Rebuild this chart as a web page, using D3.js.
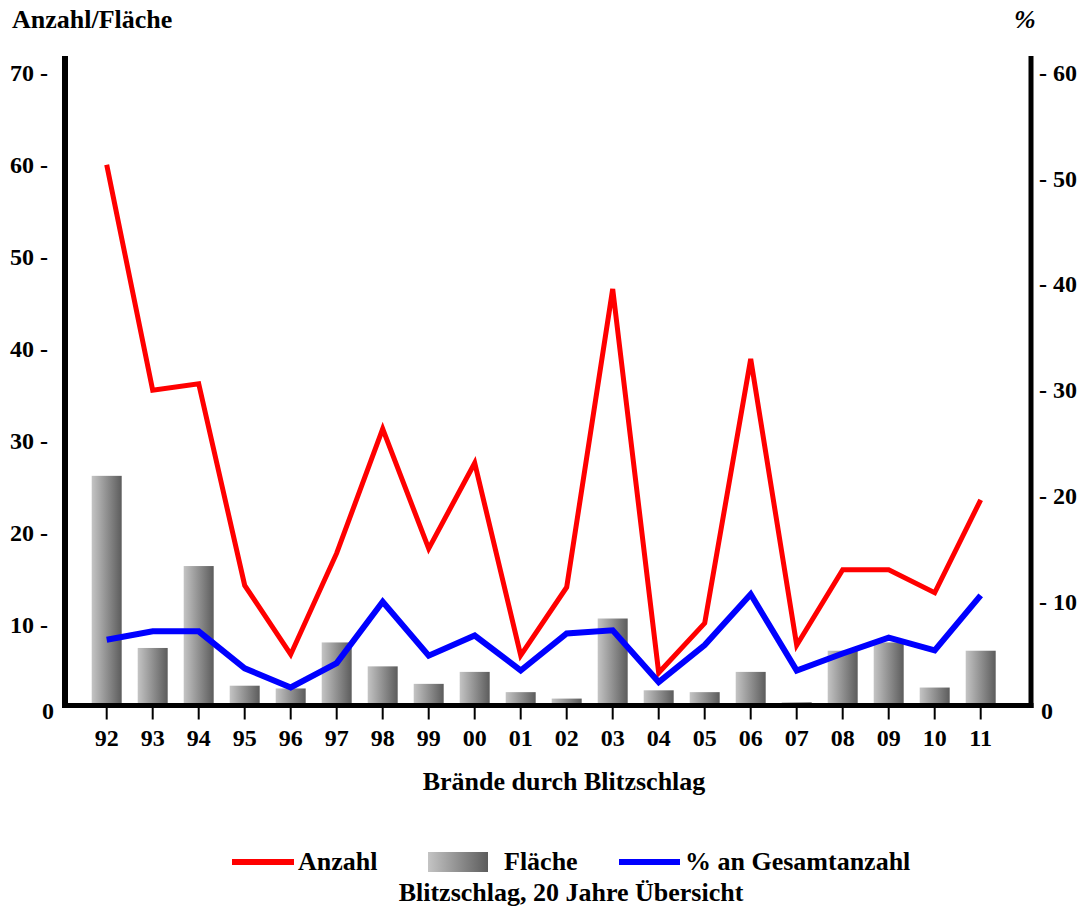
<!DOCTYPE html>
<html><head><meta charset="utf-8">
<script src="https://cdn.jsdelivr.net/npm/d3@7"></script>
<style>
html,body{margin:0;padding:0;background:#fff;}
text{font-family:"Liberation Serif","Times New Roman",serif;font-weight:bold;fill:#000;}
</style></head>
<body>
<svg id="c" width="1083" height="909"></svg>
<script>
const years = ["92","93","94","95","96","97","98","99","00","01","02","03","04","05","06","07","08","09","10","11"];
const anzahl = [60,35.5,36.2,14.3,6.8,17.8,31.3,18.3,27.6,6.7,14.1,46.5,4.8,10.2,38.9,7.8,16,16,13.5,23.6];
const flaeche = [26.2,7.5,16.4,3.4,3.1,8.1,5.5,3.6,4.9,2.7,2.0,10.7,2.9,2.7,4.9,1.6,7.2,8.1,3.2,7.2];
const prozent = [6.4,7.2,7.2,3.7,1.9,4.2,10.0,4.9,6.8,3.5,7.0,7.3,2.4,5.9,10.7,3.5,5.1,6.6,5.4,10.6];
const leftTicks = [10,20,30,40,50,60,70];
const rightTicks = [10,20,30,40,50,60];

const svg = d3.select("#c");
const axisY = 705.5, leftX = 65, rightX = 1031;

const x = d3.scaleBand().domain(years).range([83.7, 1003.7]).paddingInner(0.348).paddingOuter(0.174);
const yL = d3.scaleLinear().domain([0,70]).range([717, 72.7]);
const yR = d3.scaleLinear().domain([0,60]).range([707.5, 72.7]);

const defs = svg.append("defs");
const grad = defs.append("linearGradient").attr("id","barGrad").attr("x1","0").attr("x2","1").attr("y1","0").attr("y2","0");
grad.append("stop").attr("offset","0%").attr("stop-color","#c4c4c4");
grad.append("stop").attr("offset","100%").attr("stop-color","#5c5c5c");

// bars
svg.append("g").selectAll("rect").data(flaeche).join("rect")
  .attr("x",(d,i)=>x(years[i]))
  .attr("width",x.bandwidth())
  .attr("y",d=>yL(d))
  .attr("height",d=>Math.max(0, axisY - yL(d)))
  .attr("fill","url(#barGrad)");

const cx = d => x(d) + x.bandwidth()/2;

// lines
svg.append("path").datum(anzahl)
  .attr("d", d3.line().x((d,i)=>cx(years[i])).y(d=>yL(d)))
  .attr("fill","none").attr("stroke","#ff0000").attr("stroke-width",5).attr("stroke-linejoin","miter");
svg.append("path").datum(prozent)
  .attr("d", d3.line().x((d,i)=>cx(years[i])).y(d=>yR(d)))
  .attr("fill","none").attr("stroke","#0000ff").attr("stroke-width",6).attr("stroke-linejoin","miter");

// axes lines
svg.append("line").attr("x1",leftX).attr("x2",leftX).attr("y1",56).attr("y2",axisY+2.5).attr("stroke","#000").attr("stroke-width",6);
svg.append("line").attr("x1",rightX).attr("x2",rightX).attr("y1",56).attr("y2",axisY+2.5).attr("stroke","#000").attr("stroke-width",5);
svg.append("line").attr("x1",leftX-3).attr("x2",rightX+2.5).attr("y1",axisY).attr("y2",axisY).attr("stroke","#000").attr("stroke-width",5);

// left axis labels
const gl = svg.append("g").attr("transform",`translate(${leftX},0)`)
  .call(d3.axisLeft(yL).tickValues(leftTicks).tickSize(0).tickPadding(17).tickFormat(d=>d+" -"));
gl.select(".domain").remove();
gl.selectAll("text").style("font-size","24px").style("font-family","Liberation Serif").style("font-weight","bold");

const gr = svg.append("g").attr("transform",`translate(${rightX},0)`)
  .call(d3.axisRight(yR).tickValues(rightTicks).tickSize(0).tickPadding(8).tickFormat(d=>"- "+d));
gr.select(".domain").remove();
gr.selectAll("text").style("font-size","24px").style("font-family","Liberation Serif").style("font-weight","bold");

svg.append("text").attr("x",54).attr("y",719).attr("text-anchor","end").style("font-size","24px").text("0");
svg.append("text").attr("x",1041).attr("y",719).attr("text-anchor","start").style("font-size","24px").text("0");

// bottom axis
const gb = svg.append("g").attr("transform",`translate(0,${axisY+2})`)
  .call(d3.axisBottom(x).tickSize(12).tickPadding(9));
gb.select(".domain").remove();
gb.selectAll("line").attr("stroke","#000").attr("stroke-width",2);
gb.selectAll("text").style("font-size","24px").style("font-family","Liberation Serif").style("font-weight","bold");

// titles
svg.append("text").attr("x",12).attr("y",28).style("font-size","26px").text("Anzahl/Fläche");
svg.append("text").attr("x",1014).attr("y",28).style("font-size","26px").style("font-style","italic").text("%");
svg.append("text").attr("x",564).attr("y",790).attr("text-anchor","middle").style("font-size","26px").text("Brände durch Blitzschlag");

// legend
const lg = svg.append("g");
lg.append("line").attr("x1",232).attr("x2",294).attr("y1",862).attr("y2",862).attr("stroke","#ff0000").attr("stroke-width",6);
lg.append("text").attr("x",298).attr("y",870).style("font-size","26px").text("Anzahl");
lg.append("rect").attr("x",428).attr("y",852).attr("width",60).attr("height",20).attr("fill","url(#barGrad)");
lg.append("text").attr("x",504).attr("y",870).style("font-size","26px").text("Fläche");
lg.append("line").attr("x1",619).attr("x2",680).attr("y1",862).attr("y2",862).attr("stroke","#0000ff").attr("stroke-width",6);
lg.append("text").attr("x",685).attr("y",870).style("font-size","26px").text("% an Gesamtanzahl");
svg.append("text").attr("x",571).attr("y",901).attr("text-anchor","middle").style("font-size","26px").text("Blitzschlag, 20 Jahre Übersicht");
</script>
</body></html>
